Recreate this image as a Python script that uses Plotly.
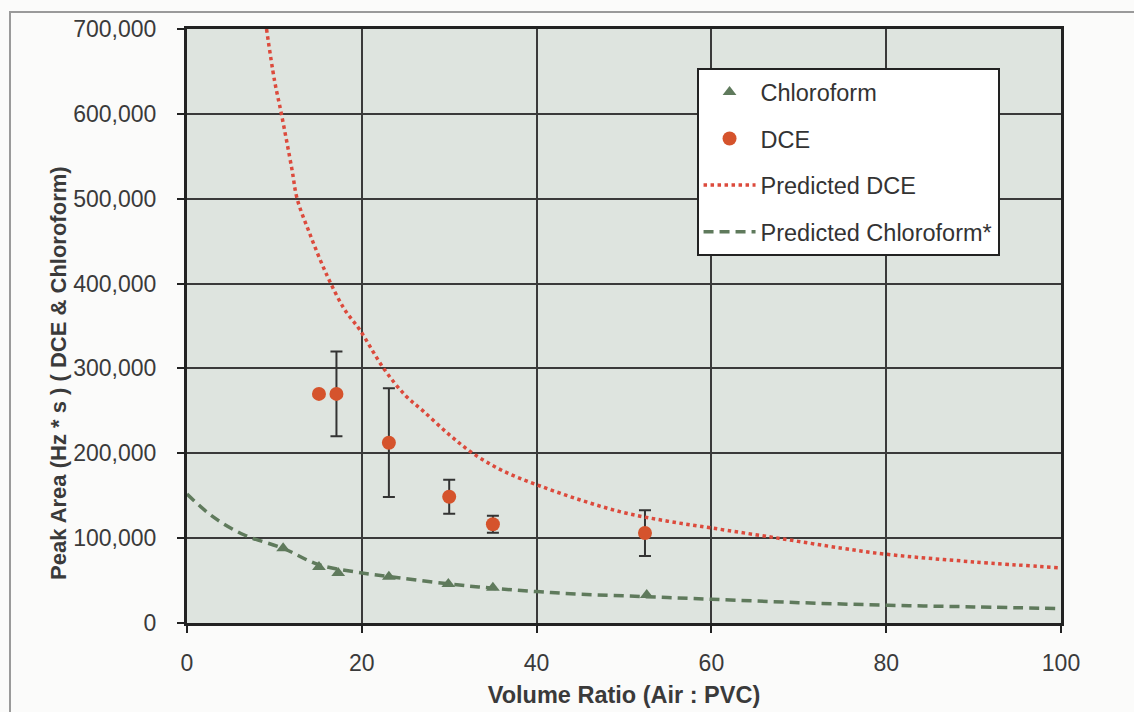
import plotly.graph_objects as go

dce_x = [15.1, 17.1, 23.1, 30.0, 35.0, 52.4]
dce_y = [270000, 270000, 212500, 148800, 116300, 106000]
dce_err = [0, 50000, 64000, 20000, 10000, 27000]

chl_x = [11.0, 15.1, 17.3, 23.1, 29.9, 35.0, 52.6]
chl_y = [88000, 66000, 59000, 54500, 46000, 41600, 33000]

# Predicted curves
pred_dce_x = [9.1, 10, 10.8, 12, 12.6, 14, 16, 18, 19.8, 22.5, 25, 27, 30, 32.7, 36, 40, 45, 50, 55, 60, 67.6, 75, 80, 90, 100]
pred_dce_y = [700000, 640000, 600000, 535000, 500000, 460000, 410000, 370000, 345000, 300000, 268000, 250000,
              222000, 200000, 180000, 163000, 145000, 130000, 120000, 112000, 100000, 88000, 81000, 72000, 65000]

pred_chl_x = [0, 3, 6.5, 11, 15, 20, 23, 30, 35, 40, 45, 52.5, 60, 70, 80, 90, 100]
pred_chl_y = [152000, 125000, 104000, 88000, 69000, 59000, 55000, 46000, 41000, 37000, 34000, 31000,
              28000, 24000, 21000, 19000, 17000]

x_ticks = [0, 20, 40, 60, 80, 100]
y_ticks = [0, 100000, 200000, 300000, 400000, 500000, 600000, 700000]
y_tick_text = ["0", "100,000", "200,000", "300,000", "400,000", "500,000", "600,000", "700,000"]

FONT = "Arial, 'Liberation Sans', sans-serif"

fig = go.Figure()

fig.add_trace(go.Scatter(
    x=chl_x, y=chl_y, mode="markers", name="Chloroform", legendgroup="a",
    marker=dict(symbol="triangle-up", size=12, color="#5f7a5c"),
))
fig.add_trace(go.Scatter(
    x=dce_x, y=dce_y, mode="markers", name="DCE", legendgroup="b",
    marker=dict(symbol="circle", size=14, color="#d5532c"),
    error_y=dict(type="data", array=dce_err, visible=True, color="#333333", thickness=2, width=6),
))
fig.add_trace(go.Scatter(
    x=pred_dce_x, y=pred_dce_y, mode="lines", name="Predicted DCE", legendgroup="c",
    line=dict(color="#dc4a3c", width=3.5, dash="dot", shape="spline"),
))
fig.add_trace(go.Scatter(
    x=pred_chl_x, y=pred_chl_y, mode="lines", name="Predicted Chloroform*", legendgroup="d",
    line=dict(color="#5f7a5c", width=3.5, dash="10px,6px", shape="spline"),
))

fig.update_layout(
    width=1134, height=712,
    margin=dict(l=187, r=73, t=29, b=89),
    paper_bgcolor="#fbfbfa",
    plot_bgcolor="#dee4df",
    font=dict(family=FONT, size=23, color="#3a3a3a"),
    showlegend=True,
    legend=dict(
        x=0.583, y=0.934, xanchor="left", yanchor="top",
        bgcolor="#ffffff", bordercolor="#222222", borderwidth=2,
        font=dict(size=23.5, color="#333333"),
        tracegroupgap=13,
        itemwidth=52,
    ),
    xaxis=dict(
        range=[0, 100], tickvals=x_ticks, ticks="outside", ticklen=7, tickwidth=2, tickcolor="#222",
        ticklabelstandoff=10, automargin=False,
        showgrid=True, gridcolor="#3a3a3a", gridwidth=1.5,
        showline=True, linecolor="#222222", linewidth=3, mirror=True,
        zeroline=False,
        title=dict(text="<b>Volume Ratio (Air : PVC)</b>", font=dict(size=23.5, color="#3a3a3a"), standoff=12),
    ),
    yaxis=dict(
        range=[0, 700000], tickvals=y_ticks, ticktext=y_tick_text, ticks="outside", ticklen=7, tickwidth=2,
        tickcolor="#222", ticklabelstandoff=16, automargin=False,
        showgrid=True, gridcolor="#3a3a3a", gridwidth=1.5,
        showline=True, linecolor="#222222", linewidth=3, mirror=True,
        zeroline=False,
    ),
    annotations=[
        dict(text="<b>Peak Area (Hz * s ) ( DCE & Chloroform)</b>", textangle=-90,
             xref="paper", yref="paper", x=(58 - 187) / 874, y=(623 - 373) / 594,
             xanchor="center", yanchor="middle", showarrow=False,
             font=dict(size=22, color="#3a3a3a", family=FONT)),
    ],
    shapes=[
        dict(type="rect", xref="paper", yref="paper",
             x0=(10 - 187) / 874, x1=(1150 - 187) / 874,
             y0=(623 - 730) / 594, y1=(623 - 12) / 594,
             line=dict(color="#9a9a9a", width=2), fillcolor="rgba(0,0,0,0)", layer="below"),
    ],
)

fig.write_html("out.html")
